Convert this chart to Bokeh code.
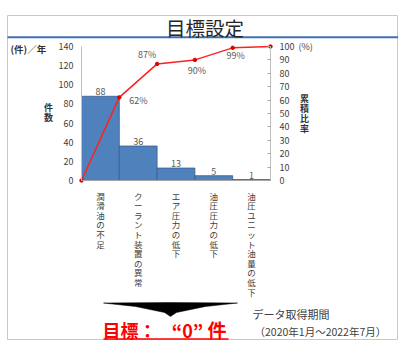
from bokeh.plotting import figure
from bokeh.models import ColumnDataSource, LinearAxis, Range1d, FixedTicker
from bokeh.embed import file_html
from bokeh.resources import INLINE
from bokeh.core.properties import value

# ---- data -------------------------------------------------------------
categories = ["潤滑油の不足", "クーラント装置の異常", "エア圧力の低下",
              "油圧圧力の低下", "油圧ユニット油量の低下"]
counts = [88, 36, 13, 5, 1]                 # 件数 (件/年)
cum_pct = [0, 62, 87, 90, 99, 100]          # 累積比率 (%)
cum_labels = ["", "62%", "87%", "90%", "99%", ""]
count_ticks = [0, 20, 40, 60, 80, 100, 120, 140]
pct_ticks = [0, 10, 20, 30, 40, 50, 60, 70, 80, 90, 100]

# ---- layout constants -------------------------------------------------
W, H = 398, 343
FL, FR, FT, FB = 81, 270, 46, 180        # chart area edges in pixels
NCAT = len(categories)
YMAX = count_ticks[-1]
PMAX = pct_ticks[-1]
FONT = "Noto Sans CJK JP"
GRAY = "#404040"


def px(x):
    """pixel column -> x data coordinate"""
    return (x - FL) / (FR - FL) * NCAT


def py(y):
    """pixel row -> y data coordinate"""
    return (FB - y) / (FB - FT) * YMAX


# the frame covers the whole canvas; axes are pinned to the chart area
p = figure(width=W, height=H, x_range=Range1d(px(0), px(W)), y_range=Range1d(py(H), py(0)),
           output_backend="svg", toolbar_location=None,
           min_border_left=0, min_border_right=0, min_border_top=0, min_border_bottom=0)
p.outline_line_color = None
p.grid.visible = False
p.background_fill_color = "white"
p.border_fill_color = "white"

# ---- axes -------------------------------------------------------------
centers = [i + 0.5 for i in range(NCAT)]
xa = p.xaxis[0]
xa.fixed_location = 0
xa.bounds = (0, NCAT)
xa.ticker = FixedTicker(ticks=centers)
xa.major_label_overrides = {c: "\n".join(list(cat)) for c, cat in zip(centers, categories)}
xa.major_label_text_font = FONT
xa.major_label_text_font_size = "8.5px"
xa.major_label_text_color = GRAY
xa.major_label_text_line_height = 0.8
xa.major_label_standoff = 9
xa.major_tick_in = 0
xa.major_tick_out = 0
xa.minor_tick_line_color = None
xa.axis_line_color = "#a6a6a6"

ya = p.yaxis[0]
ya.fixed_location = 0
ya.bounds = (0, YMAX)
ya.ticker = FixedTicker(ticks=count_ticks)
ya.major_label_text_font = FONT
ya.major_label_text_font_size = "9px"
ya.major_label_text_color = GRAY
ya.major_tick_in = 0
ya.major_tick_out = 0
ya.minor_tick_line_color = None
ya.axis_line_color = "#bfbfbf"
ya.major_label_standoff = 8

p.extra_y_ranges = {"pct": Range1d(py(H) * PMAX / YMAX, py(0) * PMAX / YMAX)}
ra = LinearAxis(y_range_name="pct", ticker=FixedTicker(ticks=pct_ticks),
                fixed_location=NCAT, bounds=(0, PMAX))
ra.major_label_text_font = FONT
ra.major_label_text_font_size = "9px"
ra.major_label_text_color = GRAY
ra.major_tick_in = 3
ra.major_tick_out = 0
ra.major_tick_line_color = "#a6a6a6"
ra.minor_tick_line_color = None
ra.axis_line_color = "#bfbfbf"
ra.major_label_standoff = 9
p.add_layout(ra, "right")

# ---- bars -------------------------------------------------------------
bars = ColumnDataSource(dict(x=centers, top=counts, label=[str(c) for c in counts]))
p.vbar(x="x", top="top", bottom=0, width=1.0, source=bars,
       fill_color="#4f81bd", line_color="#385d8a", line_width=0.8)
p.text(x="x", y="top", text="label", source=bars, text_align="center",
       text_baseline="bottom", y_offset=-1, text_font=value(FONT),
       text_font_size="9px", text_color="#595959")

# ---- cumulative line --------------------------------------------------
edges = list(range(len(cum_pct)))
p.line(edges, cum_pct, y_range_name="pct", line_color="#ff2020", line_width=1.5)
p.scatter(edges, cum_pct, y_range_name="pct", size=3.5, marker="circle",
          fill_color="#e00000", line_color="#e00000")

label_offsets = {1: (19, 3), 2: (-10, -9), 3: (2, 11), 4: (3, 8)}
idx = [i for i in edges if cum_labels[i]]
pct_src = ColumnDataSource(dict(
    x=[edges[i] for i in idx], y=[cum_pct[i] for i in idx],
    text=[cum_labels[i] for i in idx],
    dx=[label_offsets[i][0] for i in idx], dy=[label_offsets[i][1] for i in idx]))
p.text(x="x", y="y", text="text", x_offset="dx", y_offset="dy", source=pct_src,
       y_range_name="pct", text_align="center", text_baseline="middle",
       text_font=value(FONT), text_font_size="9px", text_color="#595959")


def caption(x, y, text, size, color=GRAY, align="left", bold=False, line_height=1.2):
    p.text(x=[px(x)], y=[py(y)], text=[text], text_align=align, text_baseline="middle",
           text_font=value(FONT), text_font_size=size, text_color=color,
           text_font_style="bold" if bold else "normal", text_line_height=line_height)


# ---- frame, title and side captions ----------------------------------
p.quad(left=[px(7)], right=[px(397)], top=[py(15)], bottom=[py(339)],
       fill_color=None, line_color="#c8c8c8", line_width=1)
p.quad(left=[px(7)], right=[px(398)], top=[py(35.8)], bottom=[py(37.8)],
       fill_color="#3f72b5", line_color=None)
caption(204.5, 27, "目標設定", "19.5px", color="#262626", align="center")

caption(10, 48, "(件)／年", "9.5px", color="#333333", bold=True)
caption(48, 112, "件\n数", "9px", color="#333333", align="center", bold=True, line_height=0.83)
caption(298, 46, "(%)", "9px")
caption(304, 113, "累\n積\n比\n率", "9px", color="#333333", align="center", bold=True,
        line_height=0.75)

# ---- target arrow and goal text ---------------------------------------
arrow_x = [103, 170, 237, 205, 176, 170, 164, 135]
arrow_y = [302.5, 302, 302.5, 306, 312, 316, 312, 306]
p.patch([px(v) for v in arrow_x], [py(v) for v in arrow_y],
        fill_color="black", line_color="black", line_width=0.5)
RED = "#ff0000"
caption(102, 329, "目標：", "18px", color=RED, bold=True)
caption(187, 329, "“0”", "18px", color=RED, align="center", bold=True)
caption(207, 329, "件", "19px", color=RED, bold=True)
p.quad(left=[px(103)], right=[px(228)], top=[py(337.8)], bottom=[py(339.3)],
       fill_color=RED, line_color=None)
caption(252, 313, "データ取得期間", "11px")
caption(254, 331, "（2020年1月～2022年7月）", "10.5px")

open("out.html", "w").write(file_html(p, INLINE))
